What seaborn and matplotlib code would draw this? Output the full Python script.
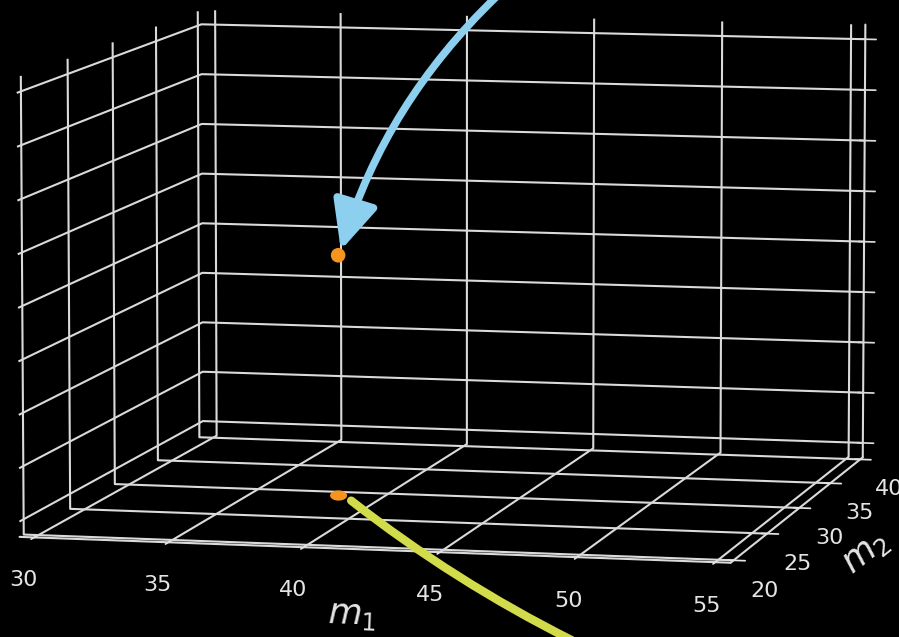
import numpy as np
import matplotlib
matplotlib.use("Agg")
import matplotlib.pyplot as plt
from matplotlib.path import Path
from matplotlib.patches import FancyArrowPatch
from mpl_toolkits.mplot3d import proj3d
import seaborn as sns

# Axis ticks
m1_ticks = [30, 35, 40, 45, 50, 55]
m2_ticks = [20, 25, 30, 35, 40]
z_ticks = [0, 1, 2, 3, 4, 5, 6, 7, 8]

# Current parameter point (m1, m2) and its cost value
point_m1 = [38.3]
point_m2 = [29.3]
point_z = [4.35]

GRID = "#dadada"
TEXT = "#e4e4e4"
ORANGE = "#f7941d"
BLUE = "#8ccfef"
YELLOW = "#d2db4a"

sns.set_theme(style="dark", rc={
    "figure.facecolor": "black",
    "axes.facecolor": "black",
    "grid.color": GRID,
    "grid.linewidth": 1.5,
    "xtick.color": GRID,
    "ytick.color": GRID,
    "axes.labelcolor": TEXT,
    "text.color": TEXT,
})
plt.rcParams["font.family"] = ["DejaVu Sans"]
plt.rcParams["mathtext.fontset"] = "dejavusans"

fig = plt.figure(figsize=(8.99, 6.37), dpi=100, facecolor="black")
ax = fig.add_axes([-0.344, -0.2853, 1.666, 1.666], projection="3d")
ax.set_facecolor("black")
ax.set_proj_type("persp", focal_length=1.5)
ax.view_init(elev=7.2, azim=-77)
ax.set_box_aspect((4, 4, 2.55))


def padded(ticks, frac):
    span = ticks[-1] - ticks[0]
    return ticks[0] - frac * span, ticks[-1] + frac * span


ax.set_xlim(*padded(m1_ticks, 0.022))
ax.set_ylim(*padded(m2_ticks, 0.022))
ax.set_zlim(*padded(z_ticks, 0.036))
ax.set_xticks(m1_ticks)
ax.set_yticks(m2_ticks)
ax.set_zticks(z_ticks)
ax.set_zticklabels([])
ax.tick_params(axis="x", labelsize=16, colors=TEXT, pad=15)
ax.tick_params(axis="y", labelsize=16, colors=TEXT, pad=9)
ax.set_xlabel("$m_1$", fontsize=25, labelpad=24)
ax.set_ylabel("$m_2$", fontsize=25, labelpad=17)

for axis in (ax.xaxis, ax.yaxis, ax.zaxis):
    axis.set_pane_color((0, 0, 0, 0))
    axis.pane.set_edgecolor(GRID)
    axis.pane.set_linewidth(1.5)
    axis.line.set_color(GRID)
    axis.line.set_linewidth(1.5)
    axis._axinfo["grid"].update(color=GRID, linewidth=1.5)
    axis._axinfo["tick"]["color"] = GRID

# point on the cost surface and its shadow on the floor
ax.scatter(point_m1, point_m2, point_z, color=ORANGE, s=110,
           depthshade=False, edgecolors="none")
z_floor = ax.get_zlim()[0]
theta = np.linspace(0, 2 * np.pi, 40)
flat = Path(np.column_stack([np.cos(theta), 0.6 * np.sin(theta)]))
ax.scatter(point_m1, point_m2, [z_floor] * len(point_m1), color=ORANGE,
           s=150, marker=flat, depthshade=False, edgecolors="none")

fig.canvas.draw()


def to_fig(x, y, z):
    px, py, _ = proj3d.proj_transform(x, y, z, ax.get_proj())
    disp = ax.transData.transform((px, py))
    return fig.transFigure.inverted().transform(disp)


top = to_fig(point_m1[0], point_m2[0], point_z[0])
bottom = to_fig(point_m1[0], point_m2[0], z_floor)

arrow = FancyArrowPatch(
    (0.552, 1.005), (top[0] + 0.003, top[1] + 0.008),
    transform=fig.transFigure, connectionstyle="arc3,rad=0.13",
    arrowstyle="-|>,head_length=14,head_width=6.5", color=BLUE,
    linewidth=5.5, mutation_scale=2.1, shrinkA=0, shrinkB=0, zorder=10)
fig.add_artist(arrow)

tail = FancyArrowPatch(
    (bottom[0] + 0.014, bottom[1] - 0.008), (0.636, -0.005),
    transform=fig.transFigure, connectionstyle="arc3,rad=0.05",
    arrowstyle="-", color=YELLOW, linewidth=6, shrinkA=0, shrinkB=0,
    zorder=10)
fig.add_artist(tail)

fig.savefig("out.png", dpi=100, facecolor="black")
